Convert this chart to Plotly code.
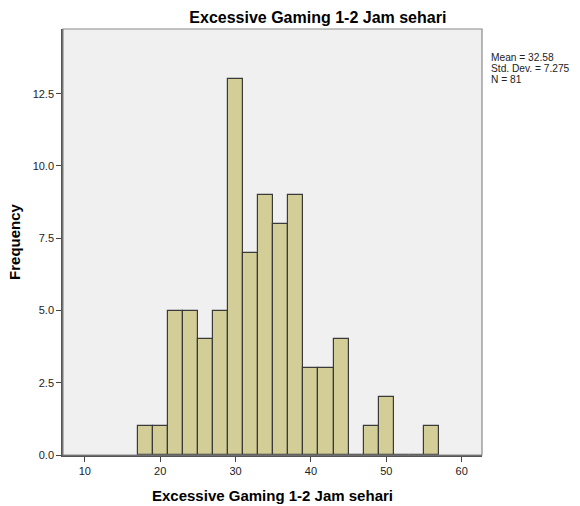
import plotly.graph_objects as go

bin_start = 17
bin_width = 2
counts = [1, 1, 5, 5, 4, 5, 13, 7, 9, 8, 9, 3, 3, 4, 0, 1, 2, 0, 0, 1]
x_ticks = [10, 20, 30, 40, 50, 60]
y_ticks = [0, 2.5, 5, 7.5, 10, 12.5]
title_text = "Excessive Gaming 1-2 Jam sehari"
stats_lines = ["Mean = 32.58", "Std. Dev. = 7.275", "N = 81"]

centers = [bin_start + bin_width * (i + 0.5) for i in range(len(counts))]

fig = go.Figure()
fig.add_trace(go.Bar(
    x=centers, y=counts, width=bin_width,
    marker=dict(color="#D3CE97", line=dict(color="#3a3a3a", width=1.2)),
    hoverinfo="x+y",
))

font = "Liberation Sans, Arial, sans-serif"
plot_h = 506 - 29 - 51
stat_ann = []
for i, line in enumerate(stats_lines):
    ypix = 58 + 10.5 * i  # pixel from top of figure
    stat_ann.append(dict(text=line, xref="paper", yref="paper",
                         x=1.017, y=1 - (ypix - 29) / plot_h, xanchor="left",
                         yanchor="middle", align="left", showarrow=False,
                         font=dict(size=10.2, color="#222222")))

fig.update_layout(
    width=580, height=506,
    margin=dict(l=63, r=98, t=29, b=51, autoexpand=False),
    paper_bgcolor="white", plot_bgcolor="#F0F0F0",
    showlegend=False, bargap=0,
    font=dict(family=font, color="#111111", size=11),
    title=dict(text="<b>" + title_text + "</b>", x=0.548, xanchor="center",
               y=0.965, yanchor="middle", font=dict(size=16, color="#000000")),
    xaxis=dict(range=[7.1, 62.7], tickvals=x_ticks, ticks="outside", ticklen=5,
               tickcolor="#444444", showgrid=False, zeroline=False, automargin=False,
               showline=True, linecolor="#555555", linewidth=1.5,
               tickfont=dict(size=11, color="#222222"),
               title=dict(text="<b>" + title_text + "</b>", standoff=15,
                          font=dict(size=15, color="#000000"))),
    yaxis=dict(range=[0, 14.74], tickvals=y_ticks, tickformat=".1f", ticks="outside",
               ticklen=5, tickcolor="#444444", showgrid=False, zeroline=False,
               automargin=False,
               showline=True, linecolor="#555555", linewidth=1.5,
               tickfont=dict(size=11, color="#222222"),
               title=dict(text="<b>Frequency</b>", standoff=8,
                          font=dict(size=15, color="#000000"))),
    shapes=[dict(type="rect", xref="paper", yref="paper", x0=0, x1=1, y0=0, y1=1,
                 line=dict(color="#8a8a8a", width=1.2), layer="above")],
    annotations=stat_ann,
)

fig.write_html("out.html", config={"displayModeBar": False},
               post_script="document.body.style.margin='0';document.body.style.overflow='hidden';")
